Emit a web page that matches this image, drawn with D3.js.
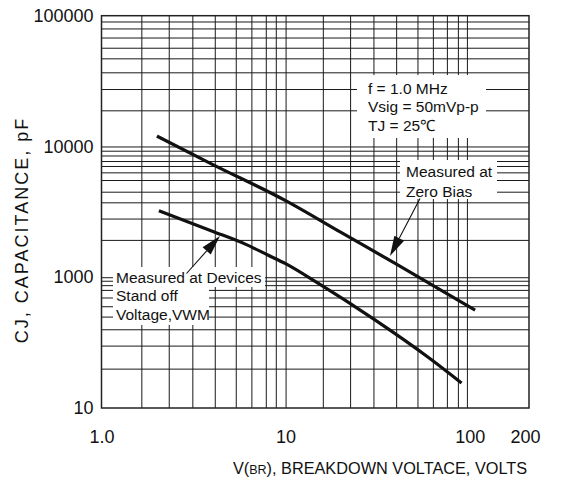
<!DOCTYPE html>
<html>
<head>
<meta charset="utf-8">
<script src="https://cdn.jsdelivr.net/npm/d3@7"></script>
<style>
  html, body { margin: 0; padding: 0; background: #fff; }
  svg { display: block; font-family: "Liberation Sans", Arial, sans-serif; }
</style>
</head>
<body>
<svg id="chart" width="561" height="481"></svg>
<script>
// Junction capacitance vs breakdown voltage (log-log)

// curve data: [volts, pF]
const zeroBias = [[2.0, 12000], [4, 7300], [10, 3850], [20, 2200], [40, 1260], [107, 560]];
const standOff = [[2.05, 3230], [4, 2250], [6, 1800], [8, 1480], [10, 1270],
                  [15, 900], [30, 480], [60, 242], [90.4, 155]];

// tick labels as printed (bottom one reads "10")
const xTicks = [1, 10, 100, 200];
const xTickLabels = ["1.0", "10", "100", "200"];
const yTicks = [100, 1000, 10000, 100000];
const yTickLabels = ["10", "1000", "10000", "100000"];

// the printed grid is not an exact log grid
const xGrid = [1.646, 2.319, 3.115, 4.124, 5.362, 6.519, 7.806, 8.846, 10,
               15.93, 22.41, 30.01, 39.86, 52.04, 63.1, 75.2, 86.3, 96.6];
const yGrid = [200, 300, 400, 500, 600, 700, 800, 870, 940, 1000,
               1930, 2810, 3740, 4510, 5540, 6340, 7090, 7740, 8530, 9280, 10000,
               18900, 27500, 36900, 47200, 56900, 68100, 79900, 90300];

const svg = d3.select("#chart");
const W = 561, H = 481;
const plot = { left: 101.5, right: 529, top: 15.7, bottom: 408 };

const x = d3.scaleLog().domain([1, 210]).range([plot.left, plot.right]);
const y = d3.scaleLog().domain([100, 100000]).range([plot.bottom, plot.top]);

svg.append("rect").attr("width", W).attr("height", H).attr("fill", "#fff");

// grid
const grid = svg.append("g").attr("class", "grid");
grid.append("g")
  .attr("transform", `translate(0,${plot.bottom})`)
  .call(d3.axisBottom(x).tickValues(xGrid).tickSize(-(plot.bottom - plot.top)).tickFormat(""))
  .call(g => g.select(".domain").remove());
grid.append("g")
  .attr("transform", `translate(${plot.left},0)`)
  .call(d3.axisLeft(y).tickValues(yGrid).tickSize(-(plot.right - plot.left)).tickFormat(""))
  .call(g => g.select(".domain").remove());
grid.selectAll("line").attr("stroke", "#1a1a1a").attr("stroke-width", 1);

// frame
svg.append("rect")
  .attr("x", plot.left).attr("y", plot.top)
  .attr("width", plot.right - plot.left).attr("height", plot.bottom - plot.top)
  .attr("fill", "none").attr("stroke", "#222").attr("stroke-width", 1.5);

// tick labels
svg.append("g")
  .attr("transform", `translate(${plot.left},0)`)
  .call(d3.axisLeft(y).tickValues(yTicks).tickSize(0).tickPadding(8)
        .tickFormat((d, i) => yTickLabels[i]))
  .call(g => g.select(".domain").remove())
  .selectAll("text").attr("font-size", 18).attr("fill", "#111")
  .attr("font-family", "Liberation Sans, Arial, sans-serif");

svg.append("g")
  .attr("transform", `translate(0,${plot.bottom})`)
  .call(d3.axisBottom(x).tickValues(xTicks).tickSize(0).tickPadding(22)
        .tickFormat((d, i) => xTickLabels[i]))
  .call(g => g.select(".domain").remove())
  .selectAll("text").attr("font-size", 18).attr("fill", "#111")
  .attr("font-family", "Liberation Sans, Arial, sans-serif");

// axis titles
const xt = svg.append("text")
  .attr("x", 380).attr("y", 474)
  .attr("text-anchor", "middle").attr("font-size", 16.3).attr("fill", "#111");
xt.append("tspan").text("V(");
xt.append("tspan").attr("font-size", 12.5).text("BR");
xt.append("tspan").text("), BREAKDOWN VOLTACE, VOLTS");

svg.append("text")
  .attr("transform", "translate(28,230) rotate(-90)")
  .attr("text-anchor", "middle").attr("font-size", 18).attr("fill", "#111")
  .attr("letter-spacing", 2)
  .text("CJ, CAPACITANCE, pF");

// annotations: white boxes knock out the grid behind the text
function note(lines, x0, y0, lh, boxes) {
  const g = svg.append("g");
  boxes.forEach(b => {
    g.append("rect").attr("x", b[0]).attr("y", b[1])
      .attr("width", b[2]).attr("height", b[3]).attr("fill", "#fff");
  });
  g.selectAll("text").data(lines).enter().append("text")
    .attr("x", x0).attr("y", (d, i) => y0 + i * lh)
    .attr("font-size", 15.5).attr("fill", "#111")
    .text(d => d);
}

note(["f = 1.0 MHz", "Vsig = 50mVp-p", "TJ = 25\u2103"], 368, 94, 18.3, [[357, 75, 129, 63]]);
note(["Measured at", "Zero Bias"], 406, 177, 19.7, [[400, 160, 97, 39]]);
note(["Measured at Devices", "Stand off", "Voltage,VWM"], 116, 282.7, 18.5,
     [[113, 267, 152, 20], [113, 286, 96, 39]]);

// curves
const line = d3.line().x(d => x(d[0])).y(d => y(d[1])).curve(d3.curveMonotoneX);
[zeroBias, standOff].forEach(s => {
  svg.append("path").attr("d", line(s))
    .attr("fill", "none").attr("stroke", "#111").attr("stroke-width", 3.2)
    .attr("stroke-linecap", "butt");
});

// arrows pointing at curves
function arrow(from, to) {
  const dx = to[0] - from[0], dy = to[1] - from[1];
  const len = Math.hypot(dx, dy), ux = dx / len, uy = dy / len;
  const hl = 20, hw = 5.5;
  const bx = to[0] - ux * hl, by = to[1] - uy * hl;
  svg.append("line").attr("x1", from[0]).attr("y1", from[1])
    .attr("x2", bx).attr("y2", by).attr("stroke", "#111").attr("stroke-width", 1.1);
  svg.append("path")
    .attr("d", `M${to[0]},${to[1]}L${bx - uy * hw},${by + ux * hw}L${bx + uy * hw},${by - ux * hw}Z`)
    .attr("fill", "#111");
}
arrow([186.5, 273.5], [220, 236]);
arrow([420, 198.5], [390, 256]);
</script>
</body>
</html>
